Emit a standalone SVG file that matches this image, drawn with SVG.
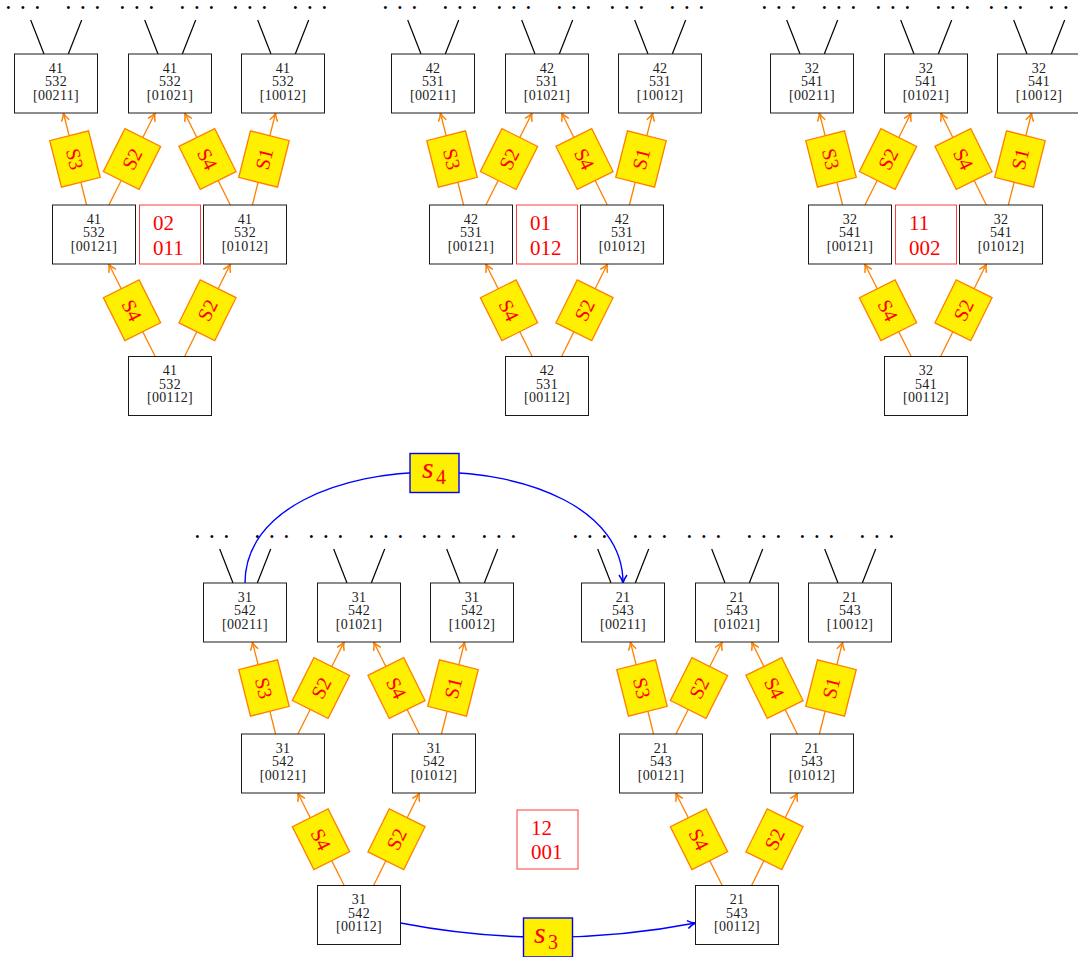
<svg xmlns="http://www.w3.org/2000/svg" width="1078" height="957" viewBox="0 0 1078 957">
<defs>
<marker id="ao" viewBox="0 0 10 10" refX="9" refY="5" markerWidth="10" markerHeight="10" markerUnits="userSpaceOnUse" orient="auto"><path d="M1,1 Q5,4 9,5 Q5,6 1,9" fill="none" stroke="#ff8000" stroke-width="1.5"/></marker>
<marker id="ab" viewBox="0 0 10 10" refX="9" refY="5" markerWidth="10" markerHeight="10" markerUnits="userSpaceOnUse" orient="auto"><path d="M1,1 Q5,4 9,5 Q5,6 1,9" fill="none" stroke="#0000ff" stroke-width="1.5"/></marker>
</defs>
<style>
.box{fill:#fff;stroke:#1a1a1a;stroke-width:1}
.bt{font-family:"Liberation Serif",serif;font-size:14px;fill:#222;text-anchor:middle;letter-spacing:0.3px}
.rbox{fill:#fff;stroke:#ff3c3c;stroke-width:1}
.rt{font-family:"Liberation Serif",serif;font-size:21px;fill:#ff0000}
.e{stroke:#ff8000;stroke-width:1.3;fill:none;marker-end:url(#ao)}
.lbl rect{fill:#ffef00;stroke:#ff8000;stroke-width:1.3}
.lbl text{font-family:"Liberation Serif",serif;font-size:20px;fill:#ff0000;text-anchor:middle}
.st{stroke:#000;stroke-width:1.2}
.dots{font-family:"Liberation Serif",serif;font-size:12px;fill:#000;letter-spacing:10.3px}
.blue{stroke:#0000ff;stroke-width:1.4;fill:none}
.bl rect{fill:#ffef00;stroke:#0000ff;stroke-width:1.4}
.bl text{font-family:"Liberation Serif",serif;fill:#ff0000}
</style>
<rect width="1078" height="957" fill="#fff"/>

<g id="connectors">
  <g id="edgesA" transform="translate(0,0)">
    <line class="st" x1="44" y1="54" x2="30.7" y2="20"/><line class="st" x1="68.3" y1="54" x2="81.7" y2="20"/>
    <line class="st" x1="158" y1="54" x2="144.7" y2="20"/><line class="st" x1="182.3" y1="54" x2="195.7" y2="20"/>
    <line class="st" x1="271" y1="54" x2="257.7" y2="20"/><line class="st" x1="295.3" y1="54" x2="308.7" y2="20"/>
    <text class="dots" x="6.2" y="12.4">•••</text><text class="dots" x="66.2" y="12.4">•••</text>
    <text class="dots" x="120.2" y="12.4">•••</text><text class="dots" x="180.2" y="12.4">•••</text>
    <text class="dots" x="233.2" y="12.4">•••</text><text class="dots" x="293.2" y="12.4">•••</text>
    <line class="e" x1="155.2" y1="356.5" x2="108.8" y2="264"/>
    <line class="e" x1="184.6" y1="356.5" x2="230.4" y2="264"/>
    <line class="e" x1="86.6" y1="205" x2="63.4" y2="113"/>
    <line class="e" x1="108.9" y1="205" x2="155.1" y2="113"/>
    <line class="e" x1="230.3" y1="205" x2="184.7" y2="113"/>
    <line class="e" x1="252.4" y1="205" x2="275.6" y2="113"/>
    <g class="lbl" transform="translate(132,310.25) rotate(63.35)"><rect x="-24" y="-20" width="48" height="40"/><text y="7">S4</text></g>
    <g class="lbl" transform="translate(207.5,310.25) rotate(-63.66)"><rect x="-24" y="-20" width="48" height="40"/><text y="7">S2</text></g>
    <g class="lbl" transform="translate(75,159) rotate(75.87)"><rect x="-24" y="-20" width="48" height="40"/><text y="7">S3</text></g>
    <g class="lbl" transform="translate(132,159) rotate(-63.28)"><rect x="-24" y="-20" width="48" height="40"/><text y="7">S2</text></g>
    <g class="lbl" transform="translate(207.5,159) rotate(63.59)"><rect x="-24" y="-20" width="48" height="40"/><text y="7">S4</text></g>
    <g class="lbl" transform="translate(264,159) rotate(-75.87)"><rect x="-24" y="-20" width="48" height="40"/><text y="7">S1</text></g>
  </g>
  <g id="edgesB" transform="translate(377,0)">
    <line class="st" x1="44" y1="54" x2="30.7" y2="20"/><line class="st" x1="68.3" y1="54" x2="81.7" y2="20"/>
    <line class="st" x1="158" y1="54" x2="144.7" y2="20"/><line class="st" x1="182.3" y1="54" x2="195.7" y2="20"/>
    <line class="st" x1="271" y1="54" x2="257.7" y2="20"/><line class="st" x1="295.3" y1="54" x2="308.7" y2="20"/>
    <text class="dots" x="6.2" y="12.4">•••</text><text class="dots" x="66.2" y="12.4">•••</text>
    <text class="dots" x="120.2" y="12.4">•••</text><text class="dots" x="180.2" y="12.4">•••</text>
    <text class="dots" x="233.2" y="12.4">•••</text><text class="dots" x="293.2" y="12.4">•••</text>
    <line class="e" x1="155.2" y1="356.5" x2="108.8" y2="264"/>
    <line class="e" x1="184.6" y1="356.5" x2="230.4" y2="264"/>
    <line class="e" x1="86.6" y1="205" x2="63.4" y2="113"/>
    <line class="e" x1="108.9" y1="205" x2="155.1" y2="113"/>
    <line class="e" x1="230.3" y1="205" x2="184.7" y2="113"/>
    <line class="e" x1="252.4" y1="205" x2="275.6" y2="113"/>
    <g class="lbl" transform="translate(132,310.25) rotate(63.35)"><rect x="-24" y="-20" width="48" height="40"/><text y="7">S4</text></g>
    <g class="lbl" transform="translate(207.5,310.25) rotate(-63.66)"><rect x="-24" y="-20" width="48" height="40"/><text y="7">S2</text></g>
    <g class="lbl" transform="translate(75,159) rotate(75.87)"><rect x="-24" y="-20" width="48" height="40"/><text y="7">S3</text></g>
    <g class="lbl" transform="translate(132,159) rotate(-63.28)"><rect x="-24" y="-20" width="48" height="40"/><text y="7">S2</text></g>
    <g class="lbl" transform="translate(207.5,159) rotate(63.59)"><rect x="-24" y="-20" width="48" height="40"/><text y="7">S4</text></g>
    <g class="lbl" transform="translate(264,159) rotate(-75.87)"><rect x="-24" y="-20" width="48" height="40"/><text y="7">S1</text></g>
  </g>
  <g id="edgesC" transform="translate(756,0)">
    <line class="st" x1="44" y1="54" x2="30.7" y2="20"/><line class="st" x1="68.3" y1="54" x2="81.7" y2="20"/>
    <line class="st" x1="158" y1="54" x2="144.7" y2="20"/><line class="st" x1="182.3" y1="54" x2="195.7" y2="20"/>
    <line class="st" x1="271" y1="54" x2="257.7" y2="20"/><line class="st" x1="295.3" y1="54" x2="308.7" y2="20"/>
    <text class="dots" x="6.2" y="12.4">•••</text><text class="dots" x="66.2" y="12.4">•••</text>
    <text class="dots" x="120.2" y="12.4">•••</text><text class="dots" x="180.2" y="12.4">•••</text>
    <text class="dots" x="233.2" y="12.4">•••</text><text class="dots" x="293.2" y="12.4">••</text>
    <line class="e" x1="155.2" y1="356.5" x2="108.8" y2="264"/>
    <line class="e" x1="184.6" y1="356.5" x2="230.4" y2="264"/>
    <line class="e" x1="86.6" y1="205" x2="63.4" y2="113"/>
    <line class="e" x1="108.9" y1="205" x2="155.1" y2="113"/>
    <line class="e" x1="230.3" y1="205" x2="184.7" y2="113"/>
    <line class="e" x1="252.4" y1="205" x2="275.6" y2="113"/>
    <g class="lbl" transform="translate(132,310.25) rotate(63.35)"><rect x="-24" y="-20" width="48" height="40"/><text y="7">S4</text></g>
    <g class="lbl" transform="translate(207.5,310.25) rotate(-63.66)"><rect x="-24" y="-20" width="48" height="40"/><text y="7">S2</text></g>
    <g class="lbl" transform="translate(75,159) rotate(75.87)"><rect x="-24" y="-20" width="48" height="40"/><text y="7">S3</text></g>
    <g class="lbl" transform="translate(132,159) rotate(-63.28)"><rect x="-24" y="-20" width="48" height="40"/><text y="7">S2</text></g>
    <g class="lbl" transform="translate(207.5,159) rotate(63.59)"><rect x="-24" y="-20" width="48" height="40"/><text y="7">S4</text></g>
    <g class="lbl" transform="translate(264,159) rotate(-75.87)"><rect x="-24" y="-20" width="48" height="40"/><text y="7">S1</text></g>
  </g>
  <g id="edgesD" transform="translate(189,529)">
    <line class="st" x1="44" y1="54" x2="30.7" y2="20"/><line class="st" x1="68.3" y1="54" x2="81.7" y2="20"/>
    <line class="st" x1="158" y1="54" x2="144.7" y2="20"/><line class="st" x1="182.3" y1="54" x2="195.7" y2="20"/>
    <line class="st" x1="271" y1="54" x2="257.7" y2="20"/><line class="st" x1="295.3" y1="54" x2="308.7" y2="20"/>
    <text class="dots" x="6.2" y="12.4">•••</text><text class="dots" x="66.2" y="12.4">•••</text>
    <text class="dots" x="120.2" y="12.4">•••</text><text class="dots" x="180.2" y="12.4">•••</text>
    <text class="dots" x="233.2" y="12.4">•••</text><text class="dots" x="293.2" y="12.4">•••</text>
    <line class="e" x1="155.2" y1="356.5" x2="108.8" y2="264"/>
    <line class="e" x1="184.6" y1="356.5" x2="230.4" y2="264"/>
    <line class="e" x1="86.6" y1="205" x2="63.4" y2="113"/>
    <line class="e" x1="108.9" y1="205" x2="155.1" y2="113"/>
    <line class="e" x1="230.3" y1="205" x2="184.7" y2="113"/>
    <line class="e" x1="252.4" y1="205" x2="275.6" y2="113"/>
    <g class="lbl" transform="translate(132,310.25) rotate(63.35)"><rect x="-24" y="-20" width="48" height="40"/><text y="7">S4</text></g>
    <g class="lbl" transform="translate(207.5,310.25) rotate(-63.66)"><rect x="-24" y="-20" width="48" height="40"/><text y="7">S2</text></g>
    <g class="lbl" transform="translate(75,159) rotate(75.87)"><rect x="-24" y="-20" width="48" height="40"/><text y="7">S3</text></g>
    <g class="lbl" transform="translate(132,159) rotate(-63.28)"><rect x="-24" y="-20" width="48" height="40"/><text y="7">S2</text></g>
    <g class="lbl" transform="translate(207.5,159) rotate(63.59)"><rect x="-24" y="-20" width="48" height="40"/><text y="7">S4</text></g>
    <g class="lbl" transform="translate(264,159) rotate(-75.87)"><rect x="-24" y="-20" width="48" height="40"/><text y="7">S1</text></g>
  </g>
  <g id="edgesE" transform="translate(567,529)">
    <line class="st" x1="44" y1="54" x2="30.7" y2="20"/><line class="st" x1="68.3" y1="54" x2="81.7" y2="20"/>
    <line class="st" x1="158" y1="54" x2="144.7" y2="20"/><line class="st" x1="182.3" y1="54" x2="195.7" y2="20"/>
    <line class="st" x1="271" y1="54" x2="257.7" y2="20"/><line class="st" x1="295.3" y1="54" x2="308.7" y2="20"/>
    <text class="dots" x="6.2" y="12.4">•••</text><text class="dots" x="66.2" y="12.4">•••</text>
    <text class="dots" x="120.2" y="12.4">•••</text><text class="dots" x="180.2" y="12.4">•••</text>
    <text class="dots" x="233.2" y="12.4">•••</text><text class="dots" x="293.2" y="12.4">•••</text>
    <line class="e" x1="155.2" y1="356.5" x2="108.8" y2="264"/>
    <line class="e" x1="184.6" y1="356.5" x2="230.4" y2="264"/>
    <line class="e" x1="86.6" y1="205" x2="63.4" y2="113"/>
    <line class="e" x1="108.9" y1="205" x2="155.1" y2="113"/>
    <line class="e" x1="230.3" y1="205" x2="184.7" y2="113"/>
    <line class="e" x1="252.4" y1="205" x2="275.6" y2="113"/>
    <g class="lbl" transform="translate(132,310.25) rotate(63.35)"><rect x="-24" y="-20" width="48" height="40"/><text y="7">S4</text></g>
    <g class="lbl" transform="translate(207.5,310.25) rotate(-63.66)"><rect x="-24" y="-20" width="48" height="40"/><text y="7">S2</text></g>
    <g class="lbl" transform="translate(75,159) rotate(75.87)"><rect x="-24" y="-20" width="48" height="40"/><text y="7">S3</text></g>
    <g class="lbl" transform="translate(132,159) rotate(-63.28)"><rect x="-24" y="-20" width="48" height="40"/><text y="7">S2</text></g>
    <g class="lbl" transform="translate(207.5,159) rotate(63.59)"><rect x="-24" y="-20" width="48" height="40"/><text y="7">S4</text></g>
    <g class="lbl" transform="translate(264,159) rotate(-75.87)"><rect x="-24" y="-20" width="48" height="40"/><text y="7">S1</text></g>
  </g>
  <g id="jump-s4">
    <path class="blue" d="M245,583 C245,435 623,435 623,583" marker-end="url(#ab)"/>
    <g class="bl"><rect x="410" y="453.5" width="49" height="39"/><text><tspan x="422" y="478" font-style="italic" font-size="30">s</tspan><tspan x="436" y="484" font-size="20">4</tspan></text></g>
  </g>
  <g id="jump-s3">
    <path class="blue" d="M400.5,923 C500.5,942.3 595.5,942.3 695.5,923" marker-end="url(#ab)"/>
    <g class="bl"><rect x="523.5" y="918" width="49" height="39"/><text><tspan x="534" y="943" font-style="italic" font-size="30">s</tspan><tspan x="548" y="949" font-size="20">3</tspan></text></g>
  </g>
</g>

<g id="treeA">
  <g id="A-T1"><rect class="box" x="14.5" y="54" width="83" height="59"/><text class="bt" x="56" y="72.5">41</text><text class="bt" x="56" y="86">532</text><text class="bt" x="56" y="99.5">[00211]</text></g>
  <g id="A-T2"><rect class="box" x="128.5" y="54" width="83" height="59"/><text class="bt" x="170" y="72.5">41</text><text class="bt" x="170" y="86">532</text><text class="bt" x="170" y="99.5">[01021]</text></g>
  <g id="A-T3"><rect class="box" x="241.5" y="54" width="83" height="59"/><text class="bt" x="283" y="72.5">41</text><text class="bt" x="283" y="86">532</text><text class="bt" x="283" y="99.5">[10012]</text></g>
  <g id="A-M1"><rect class="box" x="52.5" y="205" width="83" height="59"/><text class="bt" x="94" y="223.5">41</text><text class="bt" x="94" y="237">532</text><text class="bt" x="94" y="250.5">[00121]</text></g>
  <g id="A-R"><rect class="rbox" x="139.5" y="205" width="61" height="59"/><text class="rt" x="153" y="230">02</text><text class="rt" x="153" y="255">011</text></g>
  <g id="A-M2"><rect class="box" x="203.5" y="205" width="83" height="59"/><text class="bt" x="245" y="223.5">41</text><text class="bt" x="245" y="237">532</text><text class="bt" x="245" y="250.5">[01012]</text></g>
  <g id="A-B"><rect class="box" x="128.5" y="356.5" width="83" height="59"/><text class="bt" x="170" y="375">41</text><text class="bt" x="170" y="388.5">532</text><text class="bt" x="170" y="402">[00112]</text></g>
</g>
<g id="treeB" transform="translate(377,0)">
  <g id="B-T1"><rect class="box" x="14.5" y="54" width="83" height="59"/><text class="bt" x="56" y="72.5">42</text><text class="bt" x="56" y="86">531</text><text class="bt" x="56" y="99.5">[00211]</text></g>
  <g id="B-T2"><rect class="box" x="128.5" y="54" width="83" height="59"/><text class="bt" x="170" y="72.5">42</text><text class="bt" x="170" y="86">531</text><text class="bt" x="170" y="99.5">[01021]</text></g>
  <g id="B-T3"><rect class="box" x="241.5" y="54" width="83" height="59"/><text class="bt" x="283" y="72.5">42</text><text class="bt" x="283" y="86">531</text><text class="bt" x="283" y="99.5">[10012]</text></g>
  <g id="B-M1"><rect class="box" x="52.5" y="205" width="83" height="59"/><text class="bt" x="94" y="223.5">42</text><text class="bt" x="94" y="237">531</text><text class="bt" x="94" y="250.5">[00121]</text></g>
  <g id="B-R"><rect class="rbox" x="139.5" y="205" width="61" height="59"/><text class="rt" x="153" y="230">01</text><text class="rt" x="153" y="255">012</text></g>
  <g id="B-M2"><rect class="box" x="203.5" y="205" width="83" height="59"/><text class="bt" x="245" y="223.5">42</text><text class="bt" x="245" y="237">531</text><text class="bt" x="245" y="250.5">[01012]</text></g>
  <g id="B-B"><rect class="box" x="128.5" y="356.5" width="83" height="59"/><text class="bt" x="170" y="375">42</text><text class="bt" x="170" y="388.5">531</text><text class="bt" x="170" y="402">[00112]</text></g>
</g>
<g id="treeC" transform="translate(756,0)">
  <g id="C-T1"><rect class="box" x="14.5" y="54" width="83" height="59"/><text class="bt" x="56" y="72.5">32</text><text class="bt" x="56" y="86">541</text><text class="bt" x="56" y="99.5">[00211]</text></g>
  <g id="C-T2"><rect class="box" x="128.5" y="54" width="83" height="59"/><text class="bt" x="170" y="72.5">32</text><text class="bt" x="170" y="86">541</text><text class="bt" x="170" y="99.5">[01021]</text></g>
  <g id="C-T3"><rect class="box" x="241.5" y="54" width="83" height="59"/><text class="bt" x="283" y="72.5">32</text><text class="bt" x="283" y="86">541</text><text class="bt" x="283" y="99.5">[10012]</text></g>
  <g id="C-M1"><rect class="box" x="52.5" y="205" width="83" height="59"/><text class="bt" x="94" y="223.5">32</text><text class="bt" x="94" y="237">541</text><text class="bt" x="94" y="250.5">[00121]</text></g>
  <g id="C-R"><rect class="rbox" x="139.5" y="205" width="61" height="59"/><text class="rt" x="153" y="230">11</text><text class="rt" x="153" y="255">002</text></g>
  <g id="C-M2"><rect class="box" x="203.5" y="205" width="83" height="59"/><text class="bt" x="245" y="223.5">32</text><text class="bt" x="245" y="237">541</text><text class="bt" x="245" y="250.5">[01012]</text></g>
  <g id="C-B"><rect class="box" x="128.5" y="356.5" width="83" height="59"/><text class="bt" x="170" y="375">32</text><text class="bt" x="170" y="388.5">541</text><text class="bt" x="170" y="402">[00112]</text></g>
</g>
<g id="treeD" transform="translate(189,529)">
  <g id="D-T1"><rect class="box" x="14.5" y="54" width="83" height="59"/><text class="bt" x="56" y="72.5">31</text><text class="bt" x="56" y="86">542</text><text class="bt" x="56" y="99.5">[00211]</text></g>
  <g id="D-T2"><rect class="box" x="128.5" y="54" width="83" height="59"/><text class="bt" x="170" y="72.5">31</text><text class="bt" x="170" y="86">542</text><text class="bt" x="170" y="99.5">[01021]</text></g>
  <g id="D-T3"><rect class="box" x="241.5" y="54" width="83" height="59"/><text class="bt" x="283" y="72.5">31</text><text class="bt" x="283" y="86">542</text><text class="bt" x="283" y="99.5">[10012]</text></g>
  <g id="D-M1"><rect class="box" x="52.5" y="205" width="83" height="59"/><text class="bt" x="94" y="223.5">31</text><text class="bt" x="94" y="237">542</text><text class="bt" x="94" y="250.5">[00121]</text></g>
  <g id="D-M2"><rect class="box" x="203.5" y="205" width="83" height="59"/><text class="bt" x="245" y="223.5">31</text><text class="bt" x="245" y="237">542</text><text class="bt" x="245" y="250.5">[01012]</text></g>
  <g id="D-B"><rect class="box" x="128.5" y="356.5" width="83" height="59"/><text class="bt" x="170" y="375">31</text><text class="bt" x="170" y="388.5">542</text><text class="bt" x="170" y="402">[00112]</text></g>
</g>
<g id="treeE" transform="translate(567,529)">
  <g id="E-T1"><rect class="box" x="14.5" y="54" width="83" height="59"/><text class="bt" x="56" y="72.5">21</text><text class="bt" x="56" y="86">543</text><text class="bt" x="56" y="99.5">[00211]</text></g>
  <g id="E-T2"><rect class="box" x="128.5" y="54" width="83" height="59"/><text class="bt" x="170" y="72.5">21</text><text class="bt" x="170" y="86">543</text><text class="bt" x="170" y="99.5">[01021]</text></g>
  <g id="E-T3"><rect class="box" x="241.5" y="54" width="83" height="59"/><text class="bt" x="283" y="72.5">21</text><text class="bt" x="283" y="86">543</text><text class="bt" x="283" y="99.5">[10012]</text></g>
  <g id="E-M1"><rect class="box" x="52.5" y="205" width="83" height="59"/><text class="bt" x="94" y="223.5">21</text><text class="bt" x="94" y="237">543</text><text class="bt" x="94" y="250.5">[00121]</text></g>
  <g id="E-M2"><rect class="box" x="203.5" y="205" width="83" height="59"/><text class="bt" x="245" y="223.5">21</text><text class="bt" x="245" y="237">543</text><text class="bt" x="245" y="250.5">[01012]</text></g>
  <g id="E-B"><rect class="box" x="128.5" y="356.5" width="83" height="59"/><text class="bt" x="170" y="375">21</text><text class="bt" x="170" y="388.5">543</text><text class="bt" x="170" y="402">[00112]</text></g>
</g>
<g id="R-mid"><rect class="rbox" x="517" y="810" width="61" height="59"/><text class="rt" x="531" y="835">12</text><text class="rt" x="531" y="859">001</text></g>
</svg>
